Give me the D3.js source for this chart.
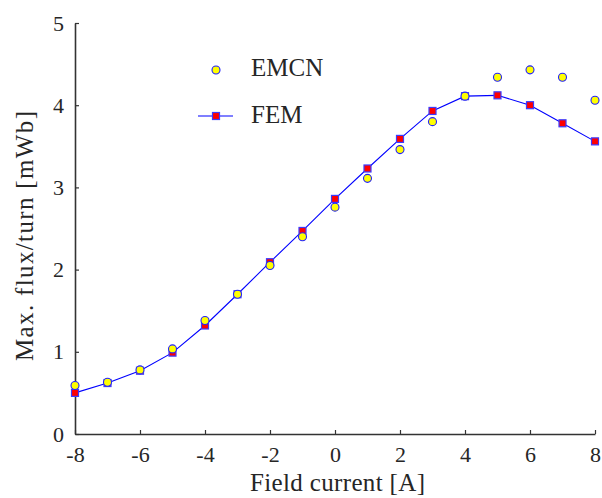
<!DOCTYPE html>
<html>
<head>
<meta charset="utf-8">
<script src="https://cdn.jsdelivr.net/npm/d3@7"></script>
<style>
  html, body { margin: 0; padding: 0; background: #fff; }
  svg { display: block; }
</style>
</head>
<body>
<svg id="chart" width="602" height="498"></svg>
<script>
// ---- data ----
const current = [-8, -7, -6, -5, -4, -3, -2, -1, 0, 1, 2, 3, 4, 5, 6, 7, 8];
const emcn = [0.59, 0.63, 0.78, 1.035, 1.38, 1.70, 2.05, 2.40, 2.76, 3.11, 3.46, 3.80, 4.11, 4.34, 4.43, 4.34, 4.06];
const fem  = [0.50, 0.62, 0.77, 0.99, 1.32, 1.70, 2.09, 2.47, 2.86, 3.23, 3.59, 3.93, 4.11, 4.12, 4.00, 3.78, 3.56];
const xTicks = [-8, -6, -4, -2, 0, 2, 4, 6, 8];
const yTicks = [0, 1, 2, 3, 4, 5];
const seriesNames = ["EMCN", "FEM"];
const xTitle = "Field current [A]";
const yTitle = "Max. flux/turn [mWb]";

const FONT = "'Liberation Serif', 'Times New Roman', serif";
const TXT = "#262626";
const svg = d3.select("#chart");
const x = d3.scaleLinear().domain([-8, 8]).range([75, 595]);
const y = d3.scaleLinear().domain([0, 5]).range([434, 23]);

// axes
const axisColor = "#333";
const gx = svg.append("g").attr("transform", "translate(0,434)")
  .call(d3.axisBottom(x).tickValues(xTicks).tickSizeInner(-4).tickSizeOuter(0).tickPadding(12)
    .tickFormat(d => d < 0 ? "-" + Math.abs(d) : String(d)));
const gy = svg.append("g").attr("transform", "translate(75,0)")
  .call(d3.axisLeft(y).tickValues(yTicks).tickSizeInner(-4).tickSizeOuter(0).tickPadding(11)
    .tickFormat(d => String(d)));
[gx, gy].forEach(g => {
  g.attr("font-family", null).attr("font-size", null);
  g.select(".domain").attr("stroke", axisColor).attr("stroke-width", 1.6);
  g.selectAll(".tick line").attr("stroke", axisColor).attr("stroke-width", 1.2);
  g.selectAll(".tick text").style("font-family", FONT).style("font-size", "22px").style("fill", TXT);
});

// axis titles
svg.append("text").attr("x", 337.5).attr("y", 491).attr("text-anchor", "middle")
  .style("font-family", FONT).style("font-size", "25px").style("fill", TXT)
  .attr("textLength", 175).attr("lengthAdjust", "spacing").text(xTitle);
svg.append("text").attr("transform", "translate(33,236) rotate(-90)").attr("text-anchor", "middle")
  .style("font-family", FONT).style("font-size", "25px").style("fill", TXT)
  .attr("textLength", 250).attr("lengthAdjust", "spacing").text(yTitle);

// FEM line + squares
const pts = current.map((c, i) => ({ x: c, fem: fem[i], emcn: emcn[i] }));
svg.append("path").datum(pts)
  .attr("fill", "none").attr("stroke", "#0000ff").attr("stroke-width", 1.1)
  .attr("d", d3.line().x(d => x(d.x)).y(d => y(d.fem)));
const sq = 7;
svg.append("g").selectAll("rect").data(pts).join("rect")
  .attr("x", d => x(d.x) - sq / 2).attr("y", d => y(d.fem) - sq / 2)
  .attr("width", sq).attr("height", sq)
  .attr("fill", "#ff0000").attr("stroke", "#3b3bff").attr("stroke-width", 1.2);

// EMCN circles
svg.append("g").selectAll("circle").data(pts).join("circle")
  .attr("cx", d => x(d.x)).attr("cy", d => y(d.emcn)).attr("r", 4)
  .attr("fill", "#ffff00").attr("stroke", "#2020ff").attr("stroke-width", 1.1);

// legend
const lg = svg.append("g");
lg.append("circle").attr("cx", 216).attr("cy", 70).attr("r", 4)
  .attr("fill", "#ffff00").attr("stroke", "#2020ff").attr("stroke-width", 1.1);
lg.append("text").attr("x", 251).attr("y", 76)
  .style("font-family", FONT).style("font-size", "25px").style("fill", TXT).text(seriesNames[0]);
lg.append("line").attr("x1", 198).attr("x2", 233).attr("y1", 116).attr("y2", 116)
  .attr("stroke", "#0000ff").attr("stroke-width", 1.1);
lg.append("rect").attr("x", 216 - sq / 2).attr("y", 116 - sq / 2).attr("width", sq).attr("height", sq)
  .attr("fill", "#ff0000").attr("stroke", "#3b3bff").attr("stroke-width", 1.2);
lg.append("text").attr("x", 251).attr("y", 123)
  .style("font-family", FONT).style("font-size", "25px").style("fill", TXT).text(seriesNames[1]);
</script>
</body>
</html>
